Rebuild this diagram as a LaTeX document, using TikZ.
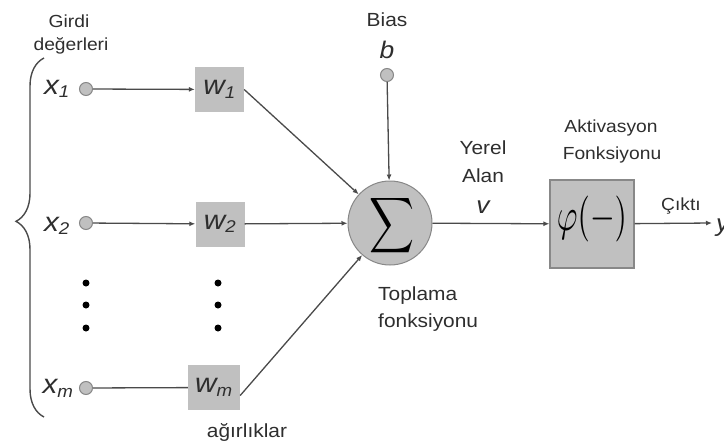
\documentclass[tikz,border=0pt]{standalone}
\usepackage{fontspec}
\usepackage{graphicx}
\setmainfont[FakeStretch=1.1]{Liberation Sans}
\usetikzlibrary{arrows.meta,decorations.pathreplacing}
\definecolor{txt}{HTML}{2E2E2E}
\definecolor{ln}{HTML}{4A4A4A}
\definecolor{boxfill}{HTML}{C0C0C0}
\definecolor{boxline}{HTML}{888888}
\tikzset{
  lbl/.style={text=txt, inner sep=0pt, font=\fontsize{19}{21}\selectfont},
  small/.style={text=txt, inner sep=0pt, font=\fontsize{17.5}{19}\selectfont},
  var/.style={text=txt, inner sep=0pt, font=\fontsize{27}{29}\selectfont\itshape},
  inp/.style={circle, draw=boxline, fill=boxfill, minimum size=13pt, inner sep=0pt, line width=1pt},
  wbox/.style={rectangle, fill=boxfill, minimum width=49pt, minimum height=45pt, inner sep=0pt, text=txt, font=\fontsize{27}{29}\selectfont\itshape},
  conn/.style={draw=ln, line width=1.3pt},
  arr/.style={conn, -{Latex[length=6pt,width=5pt]}},
  dot/.style={circle, fill=black, minimum size=7pt, inner sep=0pt},
}
\begin{document}
\begin{tikzpicture}[x=1pt,y=-1pt]
\useasboundingbox (0,0) rectangle (724,447);
\clip (0,0) rectangle (724,447);
% header texts
\node[small] (girdi) at (69,21) {Girdi};
\node[small] (deg) at (71,46) {değerleri};
% brace
\coordinate (bb) at (44,417);
\coordinate (bt) at (44,58);
\draw[draw=ln, line width=1.4pt, decorate, decoration={brace, amplitude=28pt, aspect=0.545}] (bb) -- (bt);
% input labels and circles
\node[var] (lx1) at (57,89) {x\textsubscript{\fontsize{17}{19}\selectfont 1}};
\node[var] (lx2) at (57,226) {x\textsubscript{\fontsize{17}{19}\selectfont 2}};
\node[var] (lxm) at (58,388) {x\textsubscript{\fontsize{17}{19}\selectfont m}};
\node[inp] (in1) at (86,89) {};
\node[inp] (in2) at (86,223) {};
\node[inp] (inm) at (86,388) {};
% weights
\node[wbox] (w1) at (219.5,89.5) {w\textsubscript{\fontsize{17}{19}\selectfont 1}};
\node[wbox] (w2) at (220,224) {w\textsubscript{\fontsize{17}{19}\selectfont 2}};
\node[wbox, minimum width=52pt] (wm) at (214,387.5) {w\textsubscript{\fontsize{17}{19}\selectfont m}};
\node[lbl] (agir) at (247,432) {ağırlıklar};
% dots
\node[dot] (d1) at (86,283) {};
\node[dot] (d2) at (86,305) {};
\node[dot] (d3) at (86,328) {};
\node[dot] (e1) at (218,283) {};
\node[dot] (e2) at (218,305) {};
\node[dot] (e3) at (218,328) {};
% summation
\node[circle, draw=boxline, fill=boxfill, minimum size=84pt, inner sep=0pt, line width=1pt] (sig) at (390,223) {};
\node[inner sep=0pt] (sigsym) at (392,226) {\resizebox*{45pt}{62pt}{$\displaystyle\sum$}};
% bias
\node[lbl] (biaslbl) at (387,20) {Bias};
\node[var, font=\fontsize{24}{26}\selectfont\itshape] (blbl) at (387,50) {b};
\node[inp] (bias) at (387,75) {};
% labels near sum
\node[lbl] (yerel) at (483,148) {Yerel};
\node[lbl] (alan) at (483,176) {Alan};
\node[var, font=\fontsize{24}{26}\selectfont\itshape] (vlbl) at (483,207) {v};
\node[lbl, anchor=west] (topl) at (378,296) {Toplama};
\node[lbl, anchor=west] (fonk) at (378,323) {fonksiyonu};
% activation
\node[small] (akt) at (611,128) {Aktivasyon};
\node[small] (akf) at (612,155) {Fonksiyonu};
\node[rectangle, draw=boxline, fill=boxfill, minimum width=84pt, minimum height=88pt, inner sep=0pt, line width=1.2pt] (phi) at (592,224) {};
\node[inner sep=0pt] (phisym) at (592,219) {\resizebox*{70pt}{46pt}{$\varphi(-)$}};
\node[small] (cikti) at (681,206) {Çıktı};
\coordinate (out) at (712,223);
\node[var, font=\fontsize{24}{26}\selectfont\itshape, anchor=west] (ylbl) at (716,228) {y};
% connectors
\draw[arr] (in1) -- (w1);
\draw[arr] (in2) -- (w2);
\draw[conn] (inm) -- (wm);
\draw[arr] (w1.east) -- (sig);
\draw[arr] (w2) -- (sig);
\draw[arr] ([yshift=-8pt]wm.east) -- (sig);
\draw[arr] (bias) -- (sig);
\draw[arr] (sig) -- (phi);
\draw[arr] (phi) -- (out);
\end{tikzpicture}
\end{document}
